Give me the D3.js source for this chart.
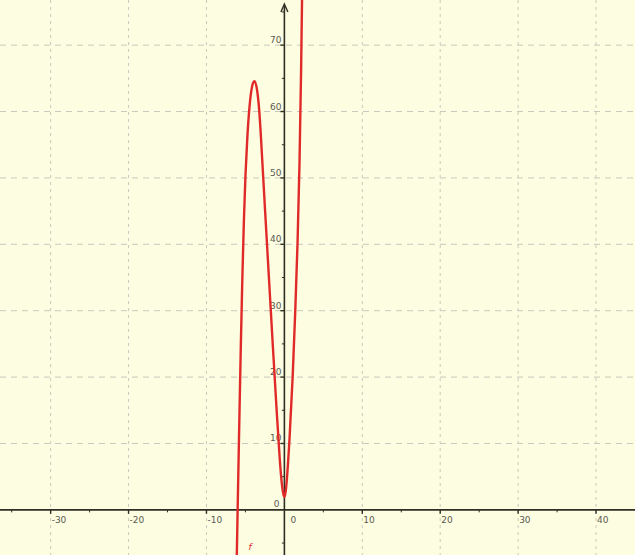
<!DOCTYPE html>
<html>
<head>
<meta charset="utf-8">
<script src="https://cdn.jsdelivr.net/npm/d3@7"></script>
<style>
  html, body { margin: 0; padding: 0; background: #fff; }
  svg { display: block; }
</style>
</head>
<body>
<div id="chart"></div>
<script>
// values
const xMajor = [-30, -20, -10, 10, 20, 30, 40];
const xMinor = [-35, -25, -15, -5, 5, 15, 25, 35];
const yMajor = [10, 20, 30, 40, 50, 60, 70];
const yMinor = [-5, 5, 15, 25, 35, 45, 55, 65, 75];
const curveX = [-6.15, -6.0, -5.8, -5.6, -5.4, -5.2, -5.0, -4.75, -4.5, -4.2, -3.85, -3.5, -3.21, -3.0, -2.77, -2.5, -2.0, -1.5, -1.0, -0.6, -0.3, 0.05, 0.3, 0.64, 1.08, 1.4, 1.7, 1.95, 2.15, 2.3];
const curveY = [-9.5, 0, 12.5, 24.5, 35, 43.8, 50.6, 56.5, 60.7, 63.8, 65, 63.6, 60.2, 56, 51.2, 45.5, 35.3, 25, 15, 7.5, 3.2, 1.2, 4, 10, 20, 30, 40, 52, 66, 80];
const curveName = 'f';

const W = 635, H = 555;
const x = d3.scaleLinear().domain([-36.5, 45]).range([0, W]);
const y = d3.scaleLinear().domain([-6.8, 76.8]).range([H, 0]);

const svg = d3.select('#chart').append('svg')
  .attr('width', W).attr('height', H);

svg.append('rect').attr('width', W).attr('height', H).attr('fill', '#fdfde1');

svg.append('defs').append('clipPath').attr('id', 'clip')
  .append('rect').attr('width', W).attr('height', H);

// grid
const grid = svg.append('g').attr('stroke', '#c9c9bd').attr('stroke-width', 1);
grid.selectAll('.gx').data(xMajor).enter().append('line')
  .attr('x1', d => x(d)).attr('x2', d => x(d))
  .attr('y1', 0).attr('y2', H)
  .attr('stroke-dasharray', '3,4');
grid.selectAll('.gy').data(yMajor).enter().append('line')
  .attr('x1', 0).attr('x2', W)
  .attr('y1', d => y(d)).attr('y2', d => y(d))
  .attr('stroke-dasharray', '6,5');

// axes
const axisCol = '#2f2f24';
const x0 = x(0), y0 = y(0);
svg.append('line').attr('x1', 0).attr('x2', W).attr('y1', y0).attr('y2', y0)
  .attr('stroke', axisCol).attr('stroke-width', 1.6);
svg.append('line').attr('x1', x0).attr('x2', x0).attr('y1', 6).attr('y2', H)
  .attr('stroke', axisCol).attr('stroke-width', 1.6);
svg.append('path')
  .attr('d', `M${x0 - 3.5},${12} L${x0},${4} L${x0 + 3.5},${12}`)
  .attr('fill', 'none').attr('stroke', axisCol).attr('stroke-width', 1.4);

// ticks
const ticks = svg.append('g').attr('stroke', axisCol).attr('stroke-width', 1.4);
ticks.selectAll('.tx').data(xMajor).enter().append('line')
  .attr('x1', d => x(d)).attr('x2', d => x(d)).attr('y1', y0).attr('y2', y0 + 4);
ticks.selectAll('.txm').data(xMinor).enter().append('line')
  .attr('x1', d => x(d)).attr('x2', d => x(d)).attr('y1', y0).attr('y2', y0 + 2.5)
  .attr('stroke-width', 1);
ticks.selectAll('.ty').data(yMajor).enter().append('line')
  .attr('x1', x0 - 4).attr('x2', x0).attr('y1', d => y(d)).attr('y2', d => y(d));
ticks.selectAll('.tym').data(yMinor).enter().append('line')
  .attr('x1', x0 - 2.5).attr('x2', x0).attr('y1', d => y(d)).attr('y2', d => y(d))
  .attr('stroke-width', 1);

// labels
const font = "'DejaVu Sans', sans-serif";
const lab = svg.append('g').attr('fill', '#5a5a52').attr('font-family', font).attr('font-size', 9);
lab.selectAll('.lx').data(xMajor).enter().append('text')
  .attr('x', d => x(d) + 1).attr('y', y0 + 13).text(d => d);
lab.selectAll('.ly').data(yMajor).enter().append('text')
  .attr('x', x0 - 3).attr('y', d => y(d) - 2).attr('text-anchor', 'end').text(d => d);
lab.append('text').attr('x', x0 - 5).attr('y', y0 - 3).attr('text-anchor', 'end').text(0);
lab.append('text').attr('x', x0 + 6).attr('y', y0 + 13).text(0);

// curve
const pts = curveX.map((v, i) => [v, curveY[i]]);
const line = d3.line().x(d => x(d[0])).y(d => y(d[1])).curve(d3.curveBasis);
svg.append('path').datum(pts)
  .attr('clip-path', 'url(#clip)')
  .attr('d', line)
  .attr('fill', 'none').attr('stroke', '#e02a2a').attr('stroke-width', 2.4)
  .attr('stroke-linejoin', 'round');

svg.append('text')
  .attr('x', x(-4.6)).attr('y', y(-6))
  .attr('fill', '#e02a2a').attr('font-family', font).attr('font-size', 9)
  .attr('font-style', 'italic').text(curveName);
</script>
</body>
</html>
